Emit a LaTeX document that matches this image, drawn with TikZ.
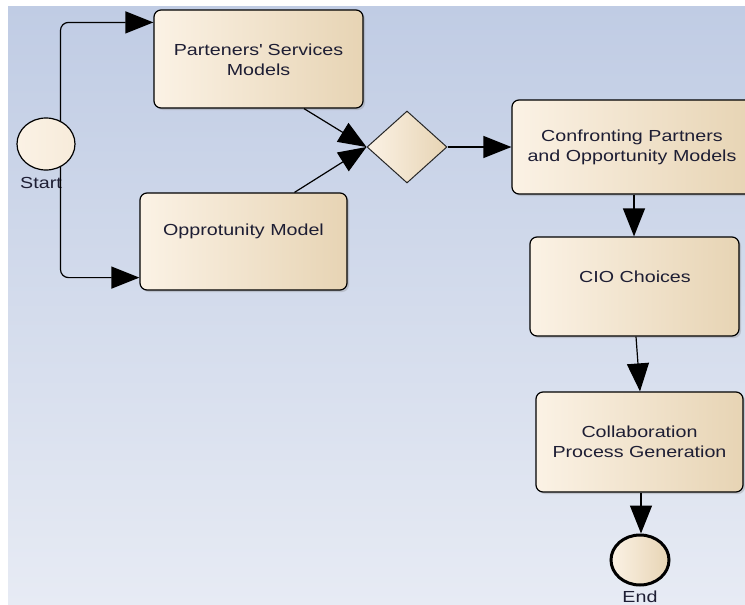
\documentclass[tikz,border=0pt]{standalone}
\usepackage{fontspec}
\setmainfont{Liberation Sans}[FakeStretch=1.23]
\usetikzlibrary{shapes.geometric,arrows.meta,shadows,calc}

\definecolor{bgtop}{HTML}{C0CCE4}
\definecolor{bgbot}{HTML}{E7EBF4}
\definecolor{boxL}{HTML}{FBF2E5}
\definecolor{boxM}{HTML}{F7EBDA}
\definecolor{boxR}{HTML}{E7D4B4}
\definecolor{txtcol}{HTML}{1E1E34}

\tikzset{
  task/.style={draw=black, line width=1.2pt, rounded corners=7pt,
    left color=boxL, middle color=boxM, right color=boxR,
    drop shadow={shadow xshift=2pt, shadow yshift=-2pt, opacity=0.3},
    inner sep=0pt},
  gate/.style={diamond, draw=black!85, line width=1pt,
    left color=boxL, middle color=boxM, right color=boxR, inner sep=0pt},
  event/.style={ellipse, draw=black, line width=1.2pt,
    left color=boxL, middle color=boxL, right color=boxM, inner sep=0pt},
  endevent/.style={event, line width=3pt, right color=boxR},
  flow/.style={draw=black, line width=1.2pt,
    -{Triangle[length=28pt,width=22pt]}},
  txt/.style={font=\fontsize{16}{20}\selectfont, align=center, text=txtcol},
}

\begin{document}
\begin{tikzpicture}[x=1pt,y=-1pt]
\useasboundingbox (0,0) rectangle (745,605);
\clip (0,0) rectangle (745,605);
\fill[white] (0,0) rectangle (745,605);
\shade[top color=bgtop, bottom color=bgbot] (8,6) rectangle (745,605);

% activities
\node[task, minimum width=209pt, minimum height=98pt] (pserv) at (258.5,59) {};
\node[task, minimum width=207pt, minimum height=97pt] (opp) at (243.5,241.5) {};
\node[task, minimum width=240pt, minimum height=94pt] (conf) at (632,147) {};
\node[task, minimum width=209pt, minimum height=99pt] (cio) at (634.5,286.5) {};
\node[task, minimum width=207pt, minimum height=100pt] (collab) at (639.5,442) {};

% gateway and events
\node[gate, minimum width=80pt, minimum height=72pt, aspect=1.1] (dec) at (407,147) {};
\node[event, minimum width=58pt, minimum height=52pt] (start) at (46,144) {};
\node[endevent, minimum width=58pt, minimum height=50pt] (end) at (640,560) {};

% texts
\node[txt] (pservtxt) at (258.5,60) {Parteners\textquotesingle{} Services\\Models};
\node[txt] (opptxt) at (243.5,231) {Opprotunity Model};
\node[txt] (conftxt) at (632,147) {Confronting Partners\\and Opportunity Models};
\node[txt] (ciotxt) at (635,277) {CIO Choices};
\node[txt] (collabtxt) at (639.5,442) {Collaboration\\Process Generation};
\node[txt] (startlbl) at (41,183) {Start};
\node[txt] (endlbl) at (640,597) {End};

% sequence flows
\draw[flow, rounded corners=8pt] (start.58) |- ([yshift=-13pt]pserv.north west);
\draw[flow, rounded corners=8pt] (start.-58) |- ([yshift=13pt]opp.south west);
\draw[flow] ([xshift=45.5pt]pserv.south) -- (dec.west);
\draw[flow] ([xshift=51pt]opp.north) -- (dec.west);
\draw[flow] (dec.east) -- (dec.east -| conf.west);
\draw[flow] ([xshift=2pt]conf.south) -- ([xshift=2pt]conf.south |- cio.north);
\draw[flow] ([xshift=1.5pt]cio.south) -- ([xshift=0.5pt]collab.north);
\draw[flow] ([xshift=1.5pt]collab.south) -- ([xshift=1pt]end.north);
\end{tikzpicture}
\end{document}
